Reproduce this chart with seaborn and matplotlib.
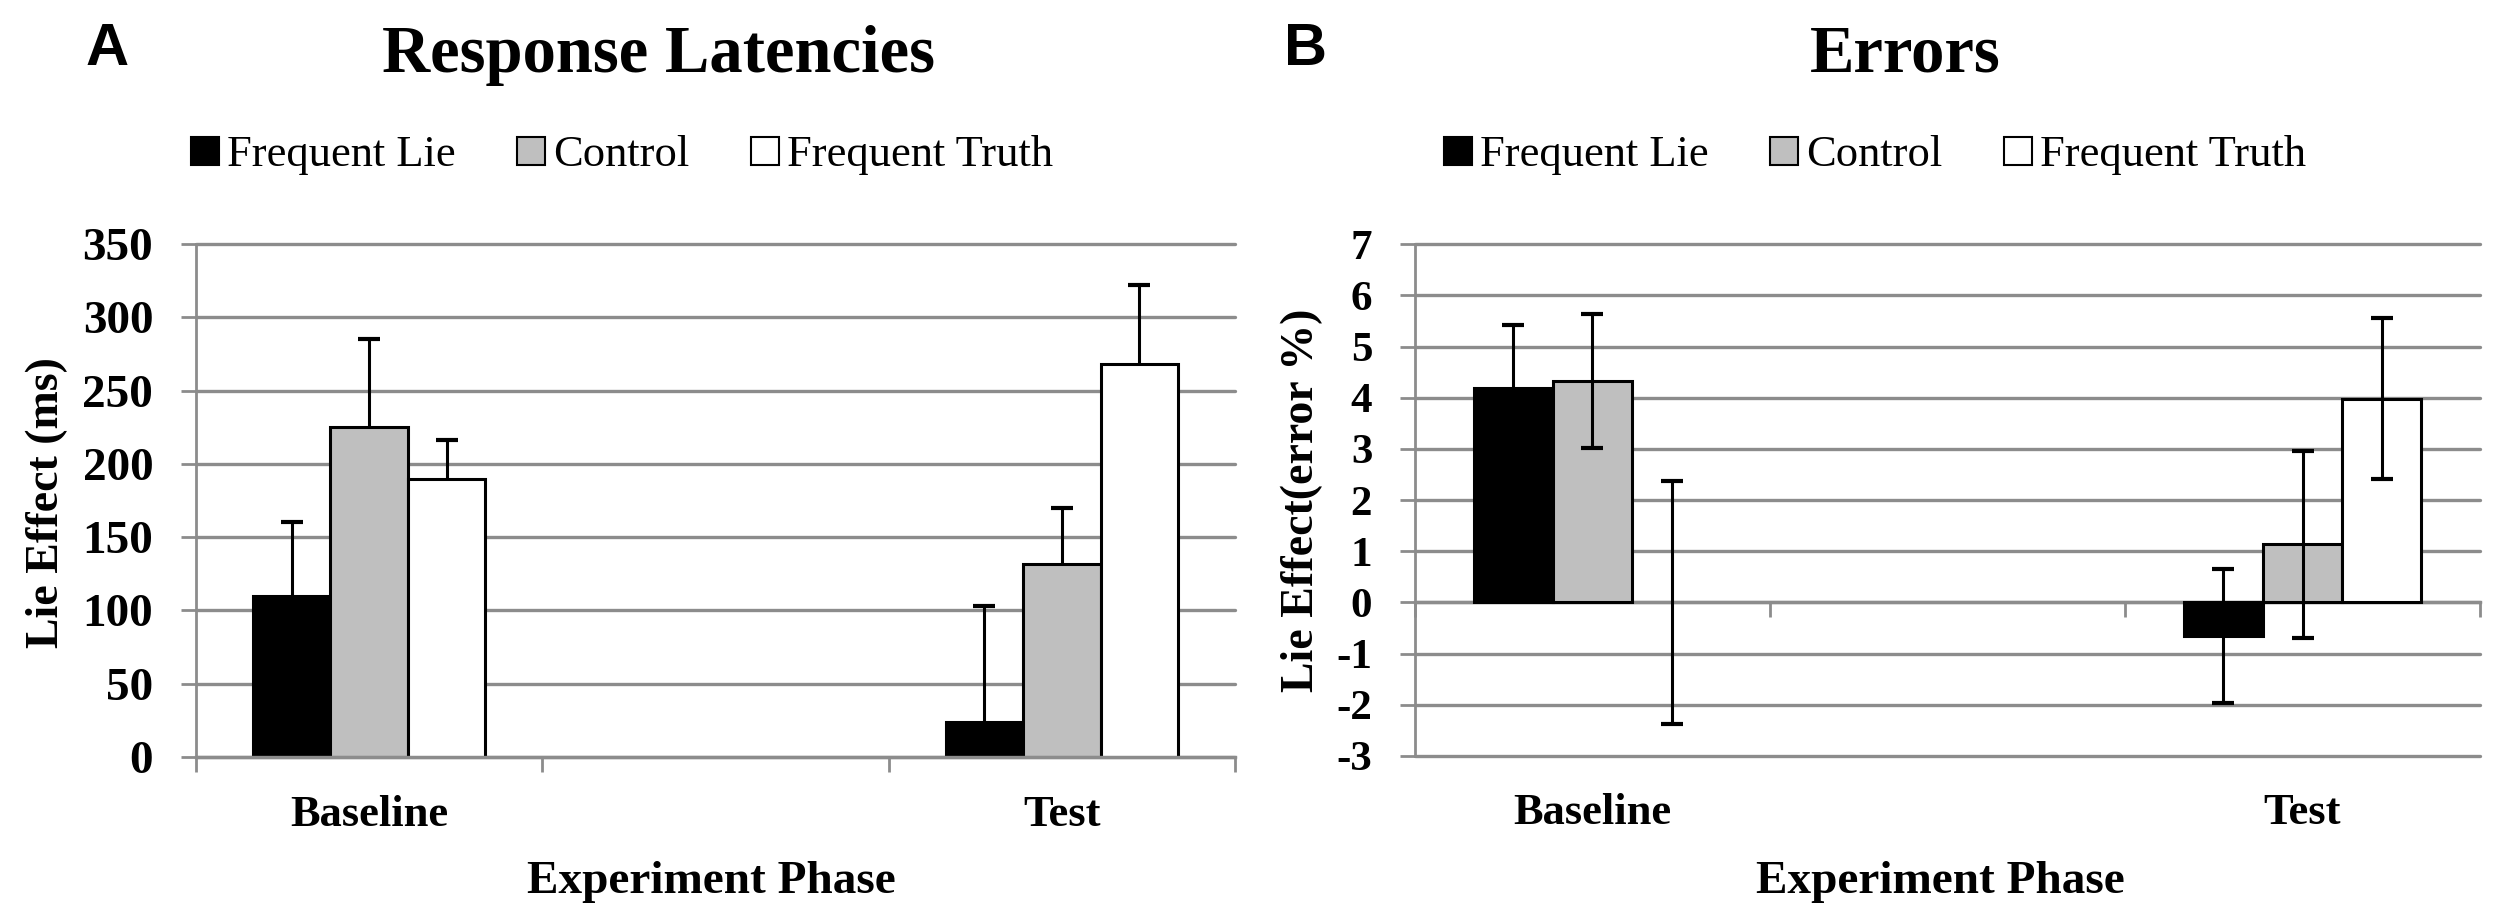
import matplotlib
matplotlib.use("Agg")
import numpy as np
import pandas as pd
import matplotlib.pyplot as plt
import seaborn as sns
from matplotlib.lines import Line2D

# ---------------- data ----------------
phases = ["Baseline", "Test"]
conditions = ["Frequent Lie", "Control", "Frequent Truth"]

latency_baseline = [110, 225, 190]
latency_test = [24, 132, 268]
latency_err_baseline = [50, 60, 26]
latency_err_test = [79, 38, 54]

errors_baseline = [4.2, 4.33, 0.0]
errors_test = [-0.65, 1.14, 3.98]
errors_err_baseline = [1.23, 1.31, 2.38]
errors_err_test = [1.31, 1.83, 1.57]

latency_ticks = [0, 50, 100, 150, 200, 250, 300, 350]
error_ticks = [-3, -2, -1, 0, 1, 2, 3, 4, 5, 6, 7]

bar_colors = ["#000000", "#bfbfbf", "#ffffff"]

# ---------------- style ----------------
sns.set_theme(style="white")
plt.rcParams['font.family'] = ['Liberation Serif', 'DejaVu Serif']
plt.rcParams['font.weight'] = 'bold'
plt.rcParams['text.color'] = 'black'
plt.rcParams['axes.labelcolor'] = 'black'
plt.rcParams['xtick.labelcolor'] = 'black'
plt.rcParams['ytick.labelcolor'] = 'black'

W, H = 2500, 924
fig = plt.figure(figsize=(W / 100, H / 100), dpi=100)


def fx(px):
    return px / W


def fy(py):
    return 1 - py / H


GRID = "#8c8c8c"
order = ["Baseline", " ", "Test"]

axA = fig.add_axes([fx(196), fy(757), fx(1235) - fx(196), fy(244) - fy(757)])
axB = fig.add_axes([fx(1415), fy(756), fx(2480) - fx(1415), fy(244.3) - fy(756)])


def make_df(base, test, eb, et):
    rows = []
    for c, v, e in zip(conditions, base, eb):
        rows.append(("Baseline", c, v, e))
    for c, v, e in zip(conditions, test, et):
        rows.append(("Test", c, v, e))
    return pd.DataFrame(rows, columns=["phase", "condition", "value", "err"])


def draw(ax, df, upper_only):
    sns.barplot(data=df, x="phase", y="value", hue="condition", order=order,
                hue_order=conditions, palette=dict(zip(conditions, bar_colors)),
                saturation=1, width=0.67, errorbar=None, edgecolor="black",
                linewidth=2.2, legend=False, ax=ax, zorder=2)
    for cont, cond in zip(ax.containers, conditions):
        for bar in cont:
            xc = bar.get_x() + bar.get_width() / 2
            ph = order[int(round(xc))]
            row = df[(df.phase == ph) & (df.condition == cond)].iloc[0]
            if row.value == 0:
                bar.set_linewidth(0)
            lo = 0 if upper_only else row.err
            eb = ax.errorbar(xc, row.value, yerr=[[lo], [row.err]], fmt='none',
                             ecolor='black', elinewidth=2.2, capsize=8,
                             capthick=3, zorder=3)
            if upper_only:
                for cap in eb[1]:
                    if np.allclose(cap.get_ydata(), row.value):
                        cap.set_visible(False)


def style(ax, ticks):
    ax.set_xlim(-0.5, 2.5)
    ax.set_ylim(ticks[0], ticks[-1])
    ax.set_yticks(ticks)
    ax.set_yticklabels([str(t) for t in ticks])
    ax.yaxis.grid(True, color=GRID, linewidth=2.4)
    ax.xaxis.grid(False)
    ax.set_axisbelow(True)
    for s in ["top", "right"]:
        ax.spines[s].set_visible(False)
    ax.spines["left"].set_color(GRID)
    ax.spines["left"].set_linewidth(2)
    ax.tick_params(axis='y', length=10.8, width=2, color=GRID, pad=20,
                   labelcolor='black',
                   labelsize=34 if ticks[-1] > 100 else 31, left=True)
    ax.set_xticks([0, 2])
    ax.set_xticklabels(phases)
    ax.tick_params(axis='x', which='major', length=0, pad=27, labelsize=32,
                   labelcolor='black', bottom=True)
    ax.set_xlabel("")
    ax.set_ylabel("")
    for gl in ax.get_ygridlines():
        gl.set_clip_on(False)


# ---------- Panel A ----------
dfA = make_df(latency_baseline, latency_test, latency_err_baseline, latency_err_test)
draw(axA, dfA, upper_only=True)
style(axA, latency_ticks)
axA.spines["bottom"].set_color(GRID)
axA.spines["bottom"].set_linewidth(2.4)
axA.set_xticks([-0.5, 0.5, 1.5, 2.5], minor=True)
axA.tick_params(axis='x', which='minor', length=10.8, width=2, color=GRID,
                bottom=True)

# ---------- Panel B ----------
dfB = make_df(errors_baseline, errors_test, errors_err_baseline, errors_err_test)
draw(axB, dfB, upper_only=False)
style(axB, error_ticks)
axB.spines["bottom"].set_visible(False)
zero_frac = (0 - error_ticks[0]) / (error_ticks[-1] - error_ticks[0])
sec = axB.secondary_xaxis(zero_frac)
sec.set_xticks([-0.5, 0.5, 1.5, 2.5])
sec.set_xticklabels(["", "", "", ""])
sec.tick_params(axis='x', length=10.8, width=2, color=GRID, direction='out')
sec.spines["bottom"].set_color(GRID)
sec.spines["bottom"].set_linewidth(2.4)

# ---------- texts ----------
fig.text(fx(107), fy(65), "A", ha='center', va='baseline', fontsize=43,
         family=['Liberation Sans', 'DejaVu Sans'], weight='bold')
fig.text(fx(1305), fy(65), "B", ha='center', va='baseline', fontsize=43,
         family=['Liberation Sans', 'DejaVu Sans'], weight='bold')
fig.text(fx(658), fy(72), "Response Latencies", ha='center', va='baseline',
         fontsize=48, weight='bold')
fig.text(fx(1905), fy(72), "Errors", ha='center', va='baseline',
         fontsize=48, weight='bold')

fig.text(fx(711), fy(893), "Experiment Phase", ha='center', va='baseline',
         fontsize=34, weight='bold')
fig.text(fx(1940), fy(893), "Experiment Phase", ha='center', va='baseline',
         fontsize=34, weight='bold')
fig.text(fx(47), fy(503), "Lie Effect (ms)", ha='center', va='center',
         rotation=90, fontsize=33, weight='bold')
fig.text(fx(1302), fy(500), "Lie Effect(error %)", ha='center', va='center',
         rotation=90, fontsize=33, weight='bold')

# ---------- legends ----------
handles = [Line2D([], [], marker='s', linestyle='none', markersize=20,
                  markerfacecolor=c, markeredgecolor='black', markeredgewidth=1.5)
           for c in bar_colors]
leg_prop = {'family': 'Liberation Serif', 'weight': 'normal', 'size': 32}
for x0 in (189, 1442):
    leg = fig.legend(handles, conditions, ncol=3, loc='center left',
                     bbox_to_anchor=(fx(x0), fy(155)), bbox_transform=fig.transFigure,
                     frameon=False, prop=leg_prop, handlelength=0.7,
                     handletextpad=0.15, columnspacing=1.35, borderpad=0,
                     borderaxespad=0)
    for t in leg.get_texts():
        t.set_color('black')

fig.savefig("out.png", dpi=100, facecolor="white")
